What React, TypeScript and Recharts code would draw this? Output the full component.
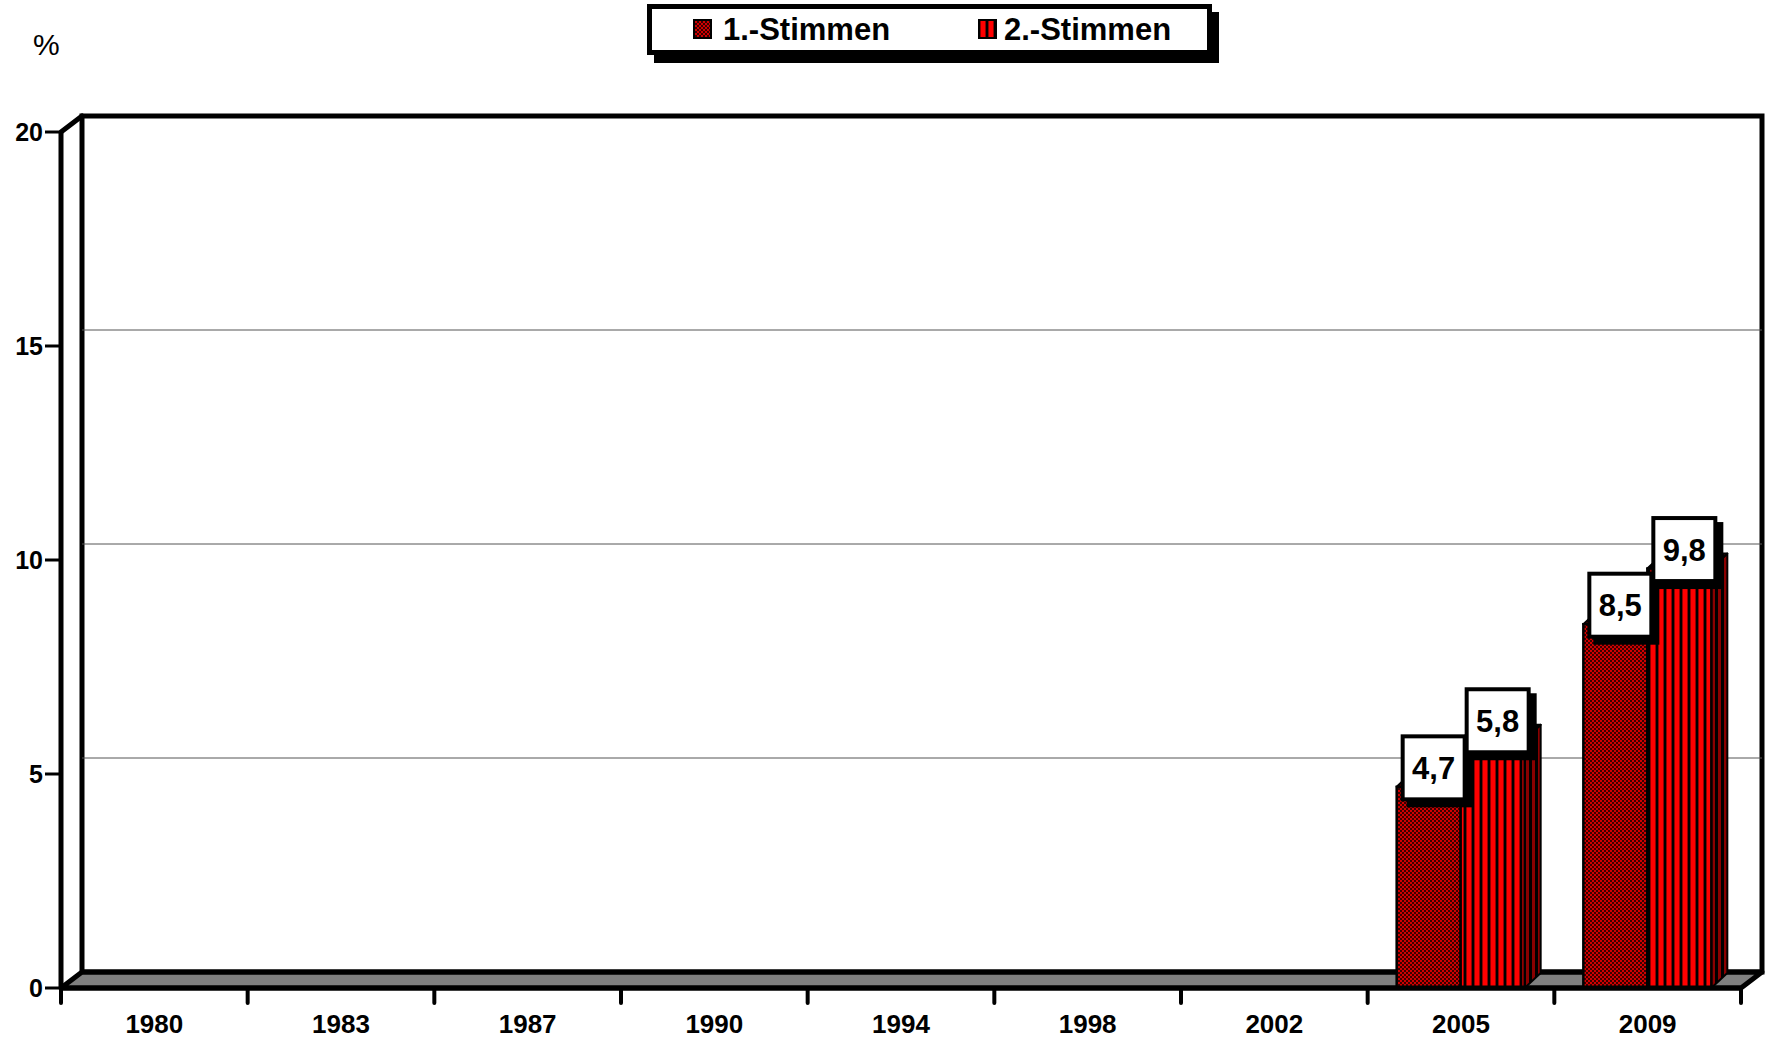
import React from 'react';
import { BarChart, Bar, XAxis, YAxis, CartesianGrid, ReferenceArea, LabelList, Legend } from 'recharts';

const years = ['1980', '1983', '1987', '1990', '1994', '1998', '2002', '2005', '2009'];
const ersteStimmen: (number | null)[] = [null, null, null, null, null, null, null, 4.7, 8.5];
const zweiteStimmen: (number | null)[] = [null, null, null, null, null, null, null, 5.8, 9.8];
const yTicks = [0, 5, 10, 15, 20];
const gridValues = [5, 10, 15];
const seriesNames = ['1.-Stimmen', '2.-Stimmen'];
const unitLabel = '%';

const data = years.map((year, i) => ({ year, s1: ersteStimmen[i], s2: zweiteStimmen[i] }));

const W = 1765;
const H = 1043;
const DX = 21;
const DY = -16;
const BDX = 16;
const BDY = -15;
const FONT = '"Liberation Sans", Arial, Helvetica, sans-serif';

const fmt = (v: number) => String(v).replace('.', ',');

const Patterns = ({ prefix }: { prefix: string }) => (
  <defs>
    <pattern id={`${prefix}chk`} patternUnits="userSpaceOnUse" width={4} height={4}>
      <rect x={0} y={0} width={4} height={4} fill="#3a0000" />
      <rect x={0} y={0} width={2} height={2} fill="#d00000" />
      <rect x={2} y={2} width={2} height={2} fill="#d00000" />
    </pattern>
    <pattern id={`${prefix}chkDark`} patternUnits="userSpaceOnUse" width={4} height={4}>
      <rect x={0} y={0} width={4} height={4} fill="#200000" />
      <rect x={0} y={0} width={2} height={2} fill="#800000" />
      <rect x={2} y={2} width={2} height={2} fill="#800000" />
    </pattern>
    <pattern id={`${prefix}str`} patternUnits="userSpaceOnUse" width={8} height={8}>
      <rect x={0} y={0} width={8} height={8} fill="#000" />
      <rect x={2} y={0} width={1} height={8} fill="#900000" />
      <rect x={3} y={0} width={4} height={8} fill="#ff0000" />
      <rect x={7} y={0} width={1} height={8} fill="#900000" />
    </pattern>
    <pattern id={`${prefix}strDark`} patternUnits="userSpaceOnUse" width={6} height={6}>
      <rect x={0} y={0} width={6} height={6} fill="#000" />
      <rect x={2} y={0} width={3} height={6} fill="#8a0000" />
    </pattern>
  </defs>
);

const makeBarShape = (front: string, side: string, top: string) => (props: any) => {
  const { x, y, width, height } = props;
  if (height == null || !(height > 0) || !(width > 0)) return <g />;
  return (
    <g>
      <polygon
        points={`${x + width},${y} ${x + width + BDX},${y + BDY} ${x + width + BDX},${y + height + BDY} ${x + width},${y + height}`}
        fill={side}
        stroke="#000"
        strokeWidth={2}
        strokeLinejoin="round"
      />
      <polygon
        points={`${x},${y} ${x + BDX},${y + BDY} ${x + width + BDX},${y + BDY} ${x + width},${y}`}
        fill={top}
        stroke="#000"
        strokeWidth={2}
        strokeLinejoin="round"
      />
      <rect x={x} y={y} width={width} height={height} fill={front} stroke="#000" strokeWidth={2.5} />
    </g>
  );
};

const ValueBox = (props: any) => {
  const { x, y, width, value } = props;
  if (value == null || x == null) return null;
  const cx = x + width / 2 + 5;
  const cy = y - 19;
  const bw = 62;
  const bh = 63;
  return (
    <g>
      <rect x={cx - bw / 2 - 2 + 6} y={cy - bh / 2 - 2 + 6} width={bw + 4} height={bh + 4} fill="#000" />
      <rect x={cx - bw / 2} y={cy - bh / 2} width={bw} height={bh} fill="#fff" stroke="#000" strokeWidth={4} />
      <text
        x={cx}
        y={cy}
        dy="0.36em"
        textAnchor="middle"
        fontFamily={FONT}
        fontWeight="bold"
        fontSize={31}
        fill="#000"
      >
        {fmt(Number(value))}
      </text>
    </g>
  );
};

const Wall = (props: any) => {
  const { x, y, width, height } = props;
  if (x == null) return <g />;
  const x0 = x;
  const y0 = y;
  const x1 = x + width;
  const y1 = y + height;
  return (
    <g>
      <polygon
        points={`${x0},${y1} ${x0 + DX},${y1 + DY} ${x1 + DX},${y1 + DY} ${x1},${y1}`}
        fill="#808080"
        stroke="#000"
        strokeWidth={5}
        strokeLinejoin="round"
      />
      <rect x={x0 + DX} y={y0 + DY} width={width} height={height} fill="none" stroke="#000" strokeWidth={5} />
      <line x1={x0} y1={y0} x2={x0 + DX} y2={y0 + DY} stroke="#000" strokeWidth={5} strokeLinecap="round" />
    </g>
  );
};

const XTick = (props: any) => {
  const { x, y, payload, index } = props;
  const half = payload && typeof payload.offset === 'number' && payload.offset > 0 ? payload.offset : 1680 / years.length / 2;
  const base = y - 27;
  return (
    <g>
      <line x1={x - half} y1={base} x2={x - half} y2={base + 15} stroke="#000" strokeWidth={4} strokeLinecap="round" />
      {index === years.length - 1 && (
        <line x1={x + half} y1={base} x2={x + half} y2={base + 15} stroke="#000" strokeWidth={4} strokeLinecap="round" />
      )}
      <text x={x} y={y} dy="0.71em" textAnchor="middle" fontFamily={FONT} fontWeight="bold" fontSize={26} fill="#000">
        {payload.value}
      </text>
    </g>
  );
};

const Swatch = ({ fill }: { fill: string }) => (
  <svg width={19} height={20} style={{ position: 'absolute', top: 0, left: 0 }}>
    <Patterns prefix="lg-" />
    <rect x={1} y={1} width={17} height={18} fill={fill} stroke="#000" strokeWidth={2} />
  </svg>
);

const LegendBox = () => (
  <div
    style={{
      position: 'relative',
      width: 565,
      height: 51,
      boxSizing: 'border-box',
      border: '5px solid #000',
      background: '#fff',
      boxShadow: '7px 8px 0 #000',
      fontFamily: FONT,
      fontWeight: 'bold',
      fontSize: 31,
      color: '#000',
    }}
  >
    <div style={{ position: 'absolute', left: 41, top: 10, width: 19, height: 20 }}>
      <Swatch fill="url(#lg-chk)" />
    </div>
    <div style={{ position: 'absolute', left: 71, top: 0, height: 41, lineHeight: '41px', whiteSpace: 'nowrap' }}>
      {seriesNames[0]}
    </div>
    <div style={{ position: 'absolute', left: 326, top: 10, width: 19, height: 20 }}>
      <Swatch fill="url(#lg-str)" />
    </div>
    <div style={{ position: 'absolute', left: 352, top: 0, height: 41, lineHeight: '41px', whiteSpace: 'nowrap' }}>
      {seriesNames[1]}
    </div>
  </div>
);

const PercentLabel = () => (
  <text x={33} y={55} fontFamily={FONT} fontSize={30} fill="#000">
    {unitLabel}
  </text>
);

export default function App() {
  return (
    <div style={{ position: 'absolute', left: 0, top: 0, width: W, height: H, background: '#fff' }}>
      <svg width={0} height={0} style={{ position: 'absolute' }}>
        <Patterns prefix="c-" />
      </svg>
      <BarChart
        width={W}
        height={H}
        data={data}
        margin={{ top: 132, right: 24, left: 0, bottom: 0 }}
        barSize={64}
        barGap={0}
      >
        <ReferenceArea
          y1={0}
          y2={20}
          zIndex={-150}
          ifOverflow="visible"
          shape={(p: any) => <Wall {...p} />}
        />
        <CartesianGrid
          vertical={false}
          horizontalValues={gridValues}
          horizontal={(p: any) => (
            <line
              key={p.key ?? `g${p.index}`}
              x1={p.x1 + DX}
              y1={p.y1 + DY}
              x2={p.x2 + DX}
              y2={p.y2 + DY}
              stroke="#555"
              strokeWidth={1}
            />
          )}
        />
        <XAxis
          dataKey="year"
          interval={0}
          height={55}
          tickLine={false}
          tickSize={0}
          tickMargin={27}
          axisLine={{ stroke: '#000', strokeWidth: 5 }}
          tick={<XTick />}
        />
        <YAxis
          domain={[0, 20]}
          ticks={yTicks}
          interval={0}
          width={61}
          tickSize={16}
          tickMargin={2}
          allowDataOverflow
          axisLine={{ stroke: '#000', strokeWidth: 5 }}
          tickLine={{ stroke: '#000', strokeWidth: 3 }}
          tick={{ fill: '#000', fontSize: 25, fontWeight: 'bold', fontFamily: FONT }}
          label={<PercentLabel />}
        />
        <Legend
          layout="horizontal"
          verticalAlign="middle"
          align="center"
          wrapperStyle={{ left: 647, top: 4, width: 565, height: 51, margin: 0, padding: 0 }}
          content={() => <LegendBox />}
        />
        <Bar
          dataKey="s1"
          name={seriesNames[0]}
          isAnimationActive={false}
          shape={makeBarShape('url(#c-chk)', 'url(#c-chkDark)', 'url(#c-chkDark)')}
        >
          <LabelList dataKey="s1" content={<ValueBox />} />
        </Bar>
        <Bar
          dataKey="s2"
          name={seriesNames[1]}
          isAnimationActive={false}
          shape={makeBarShape('url(#c-str)', 'url(#c-strDark)', 'url(#c-strDark)')}
        >
          <LabelList dataKey="s2" content={<ValueBox />} />
        </Bar>
      </BarChart>
    </div>
  );
}
